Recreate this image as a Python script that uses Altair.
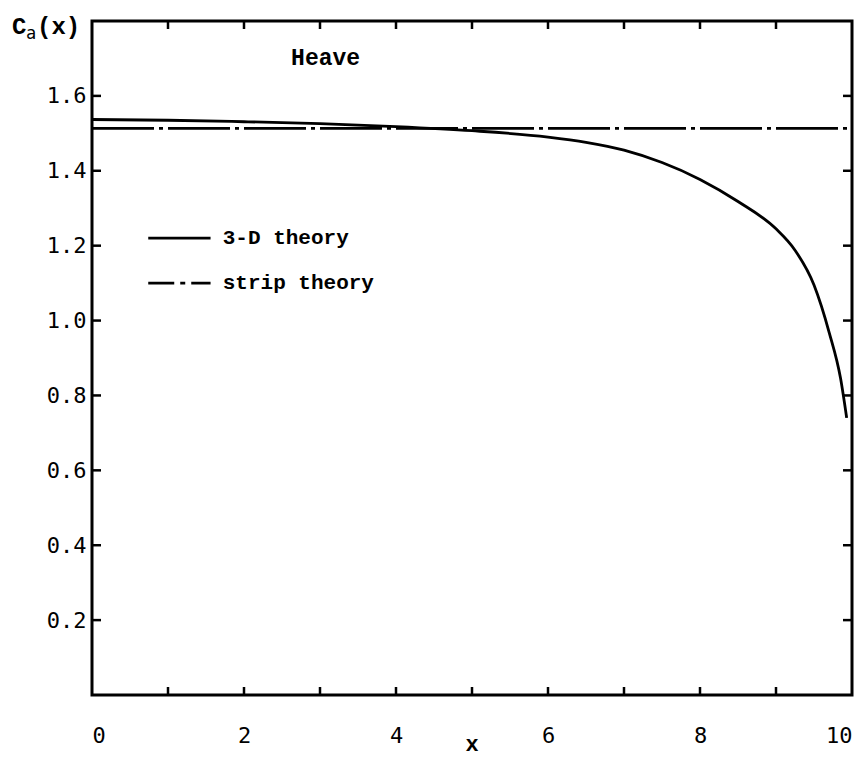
import altair as alt
import pandas as pd

# Added-mass coefficient along the body, heave mode
x_3d = [0, 1, 2, 3, 4, 5, 6, 6.5, 7, 7.5, 8, 8.5, 9, 9.25, 9.5, 9.7, 9.85, 9.93]
ca_3d = [1.537, 1.535, 1.531, 1.526, 1.518, 1.507, 1.490, 1.476, 1.455, 1.422,
         1.377, 1.318, 1.245, 1.188, 1.095, 0.968, 0.845, 0.74]
x_strip = [0, 10]
ca_strip = [1.513, 1.513]

# axis ticks
x_ticks = [1, 2, 3, 4, 5, 6, 7, 8, 9]
x_tick_labels = [0, 2, 4, 6, 8, 10]
y_ticks = [0.2, 0.4, 0.6, 0.8, 1.0, 1.2, 1.4, 1.6]

# in-plot legend
legend_labels = ["3-D theory", "strip theory"]
legend_y = [1.22, 1.10]
legend_x0, legend_x1, legend_text_x = 0.74, 1.56, 1.72

W, H = 760, 674
FONT_NUM = "DejaVu Sans Mono"
FONT_TXT = "Liberation Mono"
LW = 2.8

x_scale = alt.Scale(domain=[0, 10], nice=False, zero=False)
y_scale = alt.Scale(domain=[0, 1.8], nice=False, zero=False)

x_axis = alt.Axis(values=x_tick_labels, format="d", ticks=False, domain=False,
                  grid=False, title=None, labelFont=FONT_NUM, labelFontSize=22,
                  labelPadding=30, labelColor="black")
y_axis = alt.Axis(values=y_ticks, format=".1f", ticks=False, domain=False,
                  grid=False, title=None, labelFont=FONT_NUM, labelFontSize=22,
                  labelPadding=6, labelColor="black")


def X(field):
    return alt.X(field, type="quantitative", scale=x_scale, axis=x_axis)


def Y(field):
    return alt.Y(field, type="quantitative", scale=y_scale, axis=y_axis)


df3 = pd.DataFrame({"x": x_3d, "ca": ca_3d})
dfs = pd.DataFrame({"x": x_strip, "ca": ca_strip})

line3d = alt.Chart(df3).mark_line(
    color="black", strokeWidth=LW, interpolate="monotone").encode(
    x=X("x"), y=Y("ca"))
line_strip = alt.Chart(dfs).mark_line(
    color="black", strokeWidth=LW, strokeDash=[62, 5, 4, 5]).encode(
    x=X("x"), y=Y("ca"))

# inward ticks on all four sides
dfx = pd.DataFrame({"x": x_ticks})
dfy = pd.DataFrame({"y": y_ticks})
tick_bottom = alt.Chart(dfx).mark_rule(color="black", strokeWidth=2.5).encode(
    x=X("x"), y=alt.value(H), y2=alt.value(H - 8))
tick_top = alt.Chart(dfx).mark_rule(color="black", strokeWidth=2.5).encode(
    x=X("x"), y=alt.value(0), y2=alt.value(8))
tick_left = alt.Chart(dfy).mark_rule(color="black", strokeWidth=2.5).encode(
    y=Y("y"), x=alt.value(0), x2=alt.value(9))
tick_right = alt.Chart(dfy).mark_rule(color="black", strokeWidth=2.5).encode(
    y=Y("y"), x=alt.value(W), x2=alt.value(W - 9))

# legend samples
leg_solid = pd.DataFrame({"x": [legend_x0, legend_x1],
                          "y": [legend_y[0], legend_y[0]]})
leg_dash = pd.DataFrame({"x": [legend_x0, legend_x1],
                         "y": [legend_y[1], legend_y[1]]})
leg_line1 = alt.Chart(leg_solid).mark_line(color="black", strokeWidth=LW).encode(
    x=X("x"), y=Y("y"))
leg_line2 = alt.Chart(leg_dash).mark_line(
    color="black", strokeWidth=LW, strokeDash=[26, 6, 5, 6]).encode(
    x=X("x"), y=Y("y"))
leg_text = alt.Chart(pd.DataFrame({
    "x": [legend_text_x] * 2, "y": legend_y, "t": legend_labels})).mark_text(
    align="left", baseline="middle", font=FONT_TXT, fontSize=21,
    fontWeight="bold", color="black").encode(x=X("x"), y=Y("y"), text="t:N")

heave = alt.Chart(pd.DataFrame({"x": [2.62], "y": [1.70], "t": ["Heave"]})).mark_text(
    align="left", baseline="middle", font=FONT_TXT, fontSize=23,
    fontWeight="bold", color="black").encode(x=X("x"), y=Y("y"), text="t:N")

# axis titles: C_a(x) and x
title_c = alt.Chart(pd.DataFrame({"t": ["C"]})).mark_text(
    align="left", baseline="alphabetic", font=FONT_TXT, fontSize=24,
    fontWeight="bold", color="black").encode(
    x=alt.value(-80), y=alt.value(13), text="t:N")
title_a = alt.Chart(pd.DataFrame({"t": ["a"]})).mark_text(
    align="left", baseline="alphabetic", font=FONT_NUM, fontSize=17,
    color="black").encode(x=alt.value(-66), y=alt.value(18), text="t:N")
title_x = alt.Chart(pd.DataFrame({"t": ["(x)"]})).mark_text(
    align="left", baseline="alphabetic", font=FONT_TXT, fontSize=24,
    fontWeight="bold", color="black").encode(
    x=alt.value(-55), y=alt.value(13), text="t:N")
xlabel = alt.Chart(pd.DataFrame({"t": ["x"]})).mark_text(
    align="center", baseline="alphabetic", font=FONT_TXT, fontSize=22,
    fontWeight="bold", color="black").encode(
    x=alt.value(380), y=alt.value(H + 56), text="t:N")

chart = alt.layer(
    line_strip, line3d, tick_bottom, tick_top, tick_left, tick_right,
    leg_line1, leg_line2, leg_text, heave, title_c, title_a, title_x, xlabel
).properties(
    width=W, height=H,
    padding={"left": 92, "top": 21, "right": 8, "bottom": 64},
    autosize=alt.AutoSizeParams(type="none"),
    background="white",
).configure_view(stroke="black", strokeWidth=3)

chart.save("out.html", embed_options={"renderer": "svg", "actions": False})
